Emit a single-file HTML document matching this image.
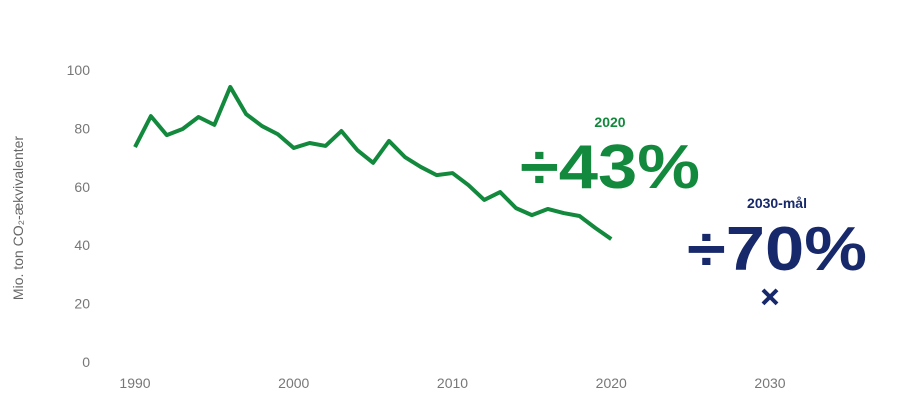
<!DOCTYPE html>
<html><head><meta charset="utf-8"><style>
html,body{margin:0;padding:0;background:#fff;}
svg{display:block;font-family:"Liberation Sans",sans-serif;}
</style></head><body>
<svg id="chart" width="900" height="408" viewBox="0 0 900 408">
<g id="yticks"></g>
<g id="xticks"></g>
<text transform="translate(23,218) rotate(-90)" text-anchor="middle" font-size="14" fill="#666">Mio. ton CO₂-ækvivalenter</text>
<path id="line" fill="none" stroke="#12893c" stroke-width="4" stroke-linejoin="round"></path>
<text x="610" y="127" text-anchor="middle" font-size="14" font-weight="bold" fill="#12893c">2020</text>
<text x="520" y="188" font-size="62" font-weight="bold" fill="#12893c" textLength="180" lengthAdjust="spacingAndGlyphs">÷43%</text>
<text x="777" y="208" text-anchor="middle" font-size="14" font-weight="bold" fill="#17296a">2030-mål</text>
<text x="687" y="270" font-size="62" font-weight="bold" fill="#17296a" textLength="180" lengthAdjust="spacingAndGlyphs">÷70%</text>
<g id="target"></g>
</svg>
<script>
const years=[1990,1991,1992,1993,1994,1995,1996,1997,1998,1999,2000,2001,2002,2003,2004,2005,2006,2007,2008,2009,2010,2011,2012,2013,2014,2015,2016,2017,2018,2019,2020];
const emissions=[73.6,84.2,77.7,79.8,83.9,81.2,94.2,84.9,80.8,78,73.3,75,74,79.1,72.6,68.2,75.7,70.2,66.8,64,64.7,60.6,55.5,58.2,52.7,50.3,52.4,51,50,45.9,42.1];
const yTicks=[0,20,40,60,80,100];
const xTicks=[1990,2000,2010,2020,2030];
const targetYear=2030, targetValue=22.3;
const NS="http://www.w3.org/2000/svg";
const x=v=>135+(v-1990)*(770-135)/40;
const y=v=>362-v*2.92;
const yg=document.getElementById('yticks');
yTicks.forEach(t=>{const e=document.createElementNS(NS,'text');


e.setAttribute('x',90);e.setAttribute('y',y(t)+5);e.setAttribute('text-anchor','end');e.setAttribute('font-size','14');e.setAttribute('fill','#777');e.textContent=t;yg.appendChild(e);});
const xg=document.getElementById('xticks');
xTicks.forEach(t=>{const e=document.createElementNS(NS,'text');


e.setAttribute('x',x(t));e.setAttribute('y',388);e.setAttribute('text-anchor','middle');e.setAttribute('font-size','14');e.setAttribute('fill','#777');e.textContent=t;xg.appendChild(e);});
document.getElementById('line').setAttribute('d',years.map((yr,i)=>(i?'L':'M')+x(yr)+','+y(emissions[i])).join(''));
const tg=document.getElementById('target');const cx=x(targetYear),cy=y(targetValue),s=7;
[[-s,-s,s,s],[-s,s,s,-s]].forEach(d=>{const l=document.createElementNS(NS,'line');


l.setAttribute('x1',cx+d[0]);l.setAttribute('y1',cy+d[1]);l.setAttribute('x2',cx+d[2]);l.setAttribute('y2',cy+d[3]);l.setAttribute('stroke','#17296a');l.setAttribute('stroke-width','4');tg.appendChild(l);});
</script>
</body></html>
